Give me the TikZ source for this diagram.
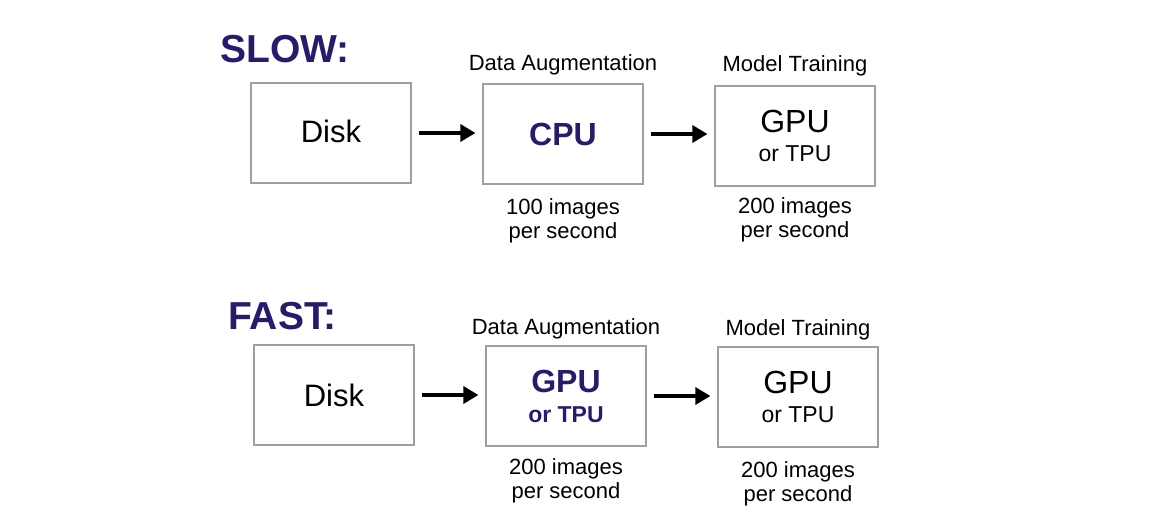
\documentclass[tikz,border=0pt]{standalone}
\usepackage{fontspec}
\setmainfont{Liberation Sans}
\usetikzlibrary{arrows.meta}
\definecolor{titleblue}{RGB}{42,26,110}
\tikzset{
	box/.style={draw=gray!75,line width=1.2pt,minimum width=160pt,minimum height=100pt,inner sep=0pt,align=center},
	flow/.style={line width=3.3pt,-{Triangle[length=15pt,width=17pt]},shorten <=7pt,shorten >=7pt},
	heading/.style={font=\fontsize{39}{40}\selectfont\bfseries,text=titleblue,inner sep=0pt,anchor=west},
	caption/.style={font=\fontsize{22}{24}\selectfont,align=center,inner sep=0pt},
	big/.style={font=\fontsize{31}{29}\selectfont},
}
\begin{document}
\begin{tikzpicture}[x=1pt,y=-1pt]
	\useasboundingbox[fill=white] (0,0) rectangle (1171,514);
	% slow pipeline
	\node[heading] (slow) at (220,49) {SLOW:};
	\node[box,big] (disk1) at (331,133) {\raisebox{4pt}{Disk}};
	\node[box,font=\fontsize{32}{29}\selectfont,text=titleblue] (aug1) at (563,134) {\bfseries CPU};
	\node[box,font=\fontsize{23}{29}\selectfont] (train1) at (795,136) {{\fontsize{32}{29}\selectfont GPU}\\or TPU};
	\node[caption,anchor=base] (auglab1) at (aug1.north|-0,70) {Data Augmentation};
	\node[caption,anchor=base] (trainlab1) at (train1.north|-0,71) {Model Training};
	\node[caption,anchor=north] (augrate1) at (aug1.south|-0,198) {100 images\\per second};
	\node[caption,anchor=north] (trainrate1) at (train1.south|-0,197) {200 images\\per second};
	\draw[flow] (disk1.east) -- (disk1.east-|aug1.west);
	\draw[flow] (aug1.east) -- (aug1.east-|train1.west);
	% fast pipeline
	\node[heading] (fast) at (228,316) {FAST:};
	\node[box,big] (disk2) at (334,395) {Disk};
	\node[box,font=\fontsize{23}{30}\selectfont\bfseries,text=titleblue] (aug2) at (566,396) {{\fontsize{32}{30}\selectfont GPU}\\or TPU};
	\node[box,font=\fontsize{23}{29}\selectfont] (train2) at (798,397) {{\fontsize{32}{29}\selectfont GPU}\\or TPU};
	\node[caption,anchor=base] (auglab2) at (aug2.north|-0,334) {Data Augmentation};
	\node[caption,anchor=base] (trainlab2) at (train2.north|-0,335) {Model Training};
	\node[caption,anchor=north] (augrate2) at (aug2.south|-0,458) {200 images\\per second};
	\node[caption,anchor=north] (trainrate2) at (train2.south|-0,461) {200 images\\per second};
	\draw[flow] (disk2.east) -- (disk2.east-|aug2.west);
	\draw[flow] (aug2.east) -- (aug2.east-|train2.west);
\end{tikzpicture}
\end{document}
